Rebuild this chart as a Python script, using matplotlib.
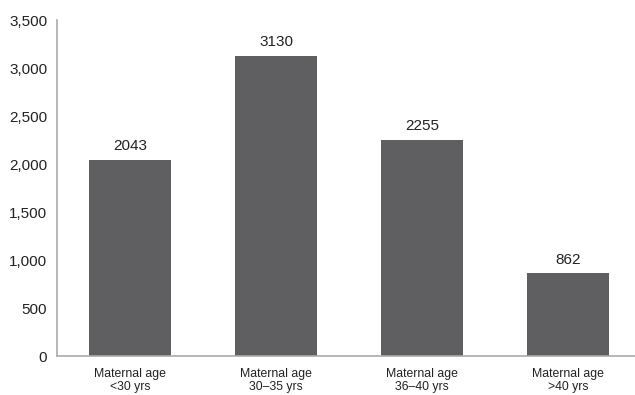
import matplotlib.pyplot as plt

plt.rcParams['font.family'] = ['Liberation Sans', 'DejaVu Sans']

categories = ["Maternal age\n<30 yrs", "Maternal age\n30\u201335 yrs",
              "Maternal age\n36\u201340 yrs", "Maternal age\n>40 yrs"]
counts = [2043, 3130, 2255, 862]
yticks = [0, 500, 1000, 1500, 2000, 2500, 3000, 3500]

fig = plt.figure(figsize=(6.35, 3.95), dpi=100)
ax = fig.add_axes([57 / 635, 1 - 356 / 395, (635 - 57) / 635, (356 - 20) / 395])

x = range(len(categories))
bars = ax.bar(x, counts, width=0.56, color='#5f5f61')
for b, v in zip(bars, counts):
    ax.text(b.get_x() + b.get_width() / 2, v + 70, str(v),
            ha='center', va='bottom', fontsize=11, color='#222222')

ax.set_xlim(-0.5, 3.459)
ax.set_ylim(0, 3500)
ax.set_yticks(yticks)
ax.set_yticklabels([f"{t:,}" for t in yticks], fontsize=11, color='#222222')
ax.set_xticks(list(x))
ax.set_xticklabels(categories, fontsize=8.8, color='#222222', linespacing=1.1)
ax.tick_params(axis='both', length=0)
ax.tick_params(axis='y', pad=7)
ax.tick_params(axis='x', pad=9)

for side in ['top', 'right']:
    ax.spines[side].set_visible(False)
for side in ['left', 'bottom']:
    ax.spines[side].set_color('#aaaaaa')
    ax.spines[side].set_linewidth(1.2)

fig.savefig('out.png', dpi=100)
